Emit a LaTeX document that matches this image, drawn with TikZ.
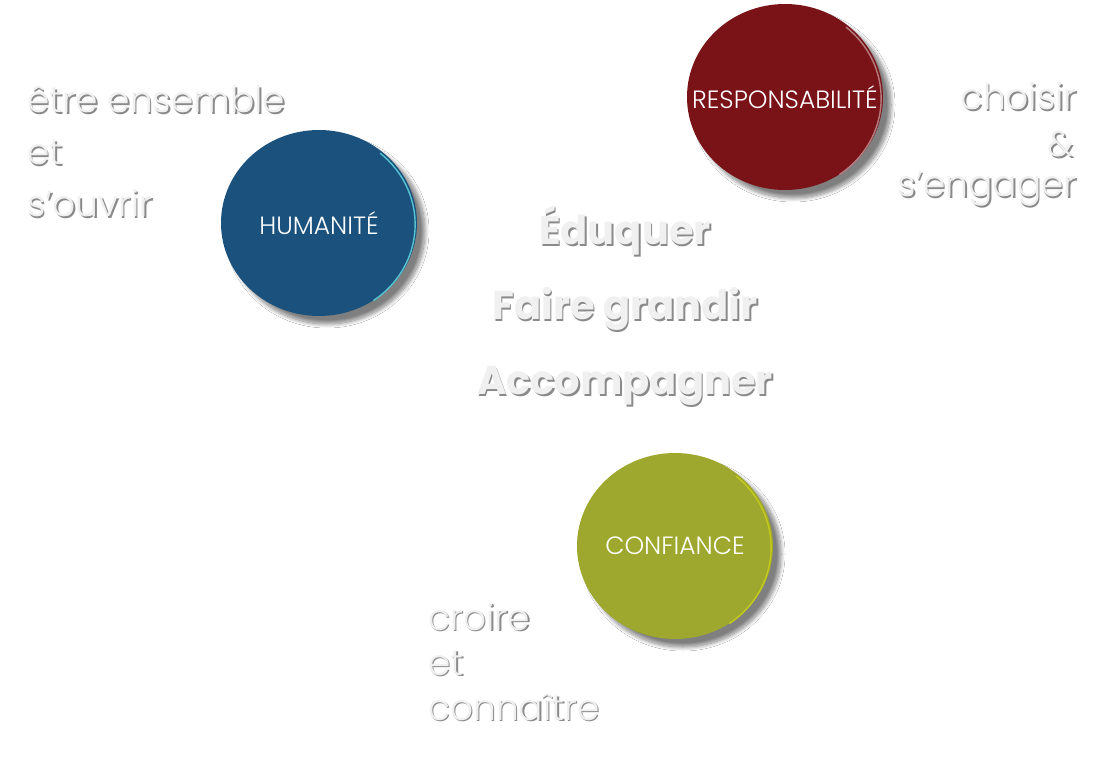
\documentclass[tikz,border=0pt]{standalone}
\usepackage{fontspec}
\setmainfont{Poppins}
\newfontfamily\lightfont{Poppins Light}
\usetikzlibrary{shapes.geometric,shadows.blur}
\definecolor{humblue}{HTML}{1B527D}
\definecolor{resred}{HTML}{7A1318}
\definecolor{confgreen}{HTML}{9EA82E}
\definecolor{embfill}{HTML}{F0F0F0}
\definecolor{embshade}{HTML}{8A8A8A}
\newcommand{\emb}[1]{\makebox[0pt][l]{\hspace{1.6pt}\raisebox{-1.6pt}{\color{embshade}#1}}{\color{embfill}#1}}
\newcommand{\val}[1]{\makebox[0pt]{#1}}

\begin{document}
\begin{tikzpicture}[x=1pt,y=-1pt,
	value/.style={ellipse, minimum width=196pt, minimum height=186pt, inner sep=0pt,
		text=white, font=\lightfont\fontsize{25}{28}\selectfont,
		blur shadow={shadow xshift=8pt, shadow yshift=-8pt, shadow blur radius=4pt,
			shadow blur steps=12, shadow opacity=50}},
	rim/.style={line width=1.4pt},
	verb/.style={inner sep=0pt, anchor=base west, font=\lightfont\fontsize{36}{40}\selectfont},
	verbr/.style={verb, anchor=base east},
	motto/.style={inner sep=0pt, anchor=base, font=\bfseries\fontsize{40}{44}\selectfont}]
	\useasboundingbox[fill=white] (0,0) rectangle (1104,759);

	% the three values
	\node[value, fill=humblue] (hum) at (319,223) {\val{HUMANITÉ}};
	\node[value, fill=resred] (res) at (785,97) {\val{RESPONSABILITÉ}};
	\node[value, fill=confgreen] (conf) at (675,546) {\val{CONFIANCE}};
	\draw[rim, humblue!50!cyan!70!white] (hum.-55) arc[start angle=-55, end angle=50, x radius=98pt, y radius=93pt];
	\draw[rim, resred!55!white] (res.-55) arc[start angle=-55, end angle=50, x radius=98pt, y radius=93pt];
	\draw[rim, confgreen!60!yellow] (conf.-55) arc[start angle=-55, end angle=50, x radius=98pt, y radius=93pt];

	% what goes with them
	\node[verb] (etre) at (27,113) {\emb{être ensemble}};
	\node[verb] (et1) at (27,165) {\emb{et}};
	\node[verb] (ouvrir) at (27,217) {\emb{s’ouvrir}};

	\node[verbr] (choisir) at (1077,110) {\emb{choisir}};
	\node[verbr] (amp) at (1074,157) {\emb{\&}};
	\node[verbr] (engager) at (1077,197) {\emb{s’engager}};

	\node[verb] (croire) at (428,630) {\emb{croire}};
	\node[verb] (et2) at (428,675) {\emb{et}};
	\node[verb] (connaitre) at (428,720) {\emb{connaître}};

	% in the middle
	\node[motto] (eduquer) at (625,245) {\emb{Éduquer}};
	\node[motto] (grandir) at (625,320) {\emb{Faire grandir}};
	\node[motto] (accomp) at (625,395) {\emb{Accompagner}};
\end{tikzpicture}
\end{document}
